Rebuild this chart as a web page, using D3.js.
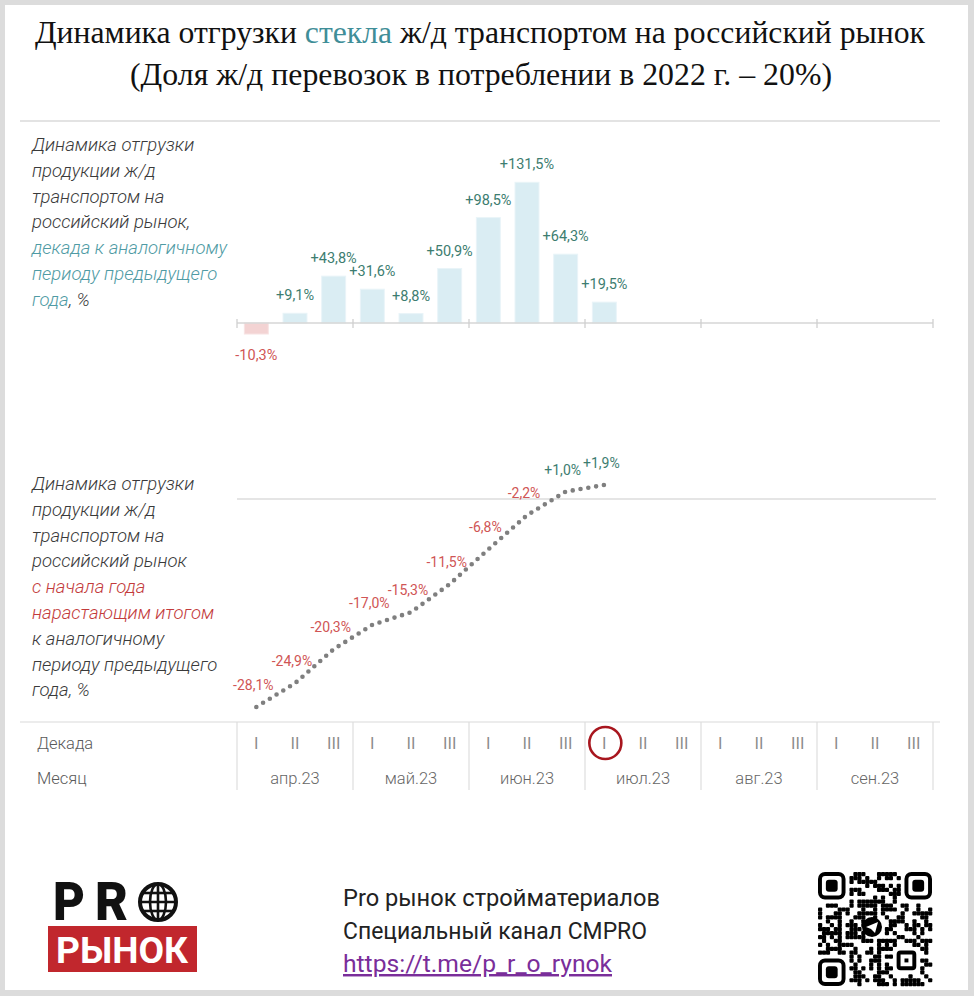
<!DOCTYPE html>
<html><head><meta charset="utf-8">
<script src="https://cdn.jsdelivr.net/npm/d3@7/dist/d3.min.js"></script>
<style>
html,body{margin:0;padding:0;background:#fff;}
svg{display:block;}
</style></head>
<body>
<svg id="chart" width="974" height="996"></svg>
<script>
// ---------- DATA ----------
const months = ["апр.23","май.23","июн.23","июл.23","авг.23","сен.23"];
const decades = ["I","II","III"];
const decadeYoY = [-10.3, 9.1, 43.8, 31.6, 8.8, 50.9, 98.5, 131.5, 64.3, 19.5];
const cumulativeYoY = [-28.1, -24.9, -20.3, -17.0, -15.3, -11.5, -6.8, -2.2, 1.0, 1.9];
const currentDecade = "июл.23 I";
const titleLine1 = [["Динамика отгрузки ", "dark"], ["стекла", "teal"], [" ж/д транспортом на российский рынок", "dark"]];
const titleLine2 = "(Доля ж/д перевозок в потреблении в 2022 г. – 20%)";
const noteTop = [
  [["Динамика отгрузки","dark"]],
  [["продукции ж/д","dark"]],
  [["транспортом на","dark"]],
  [["российский рынок,","dark"]],
  [["декада к аналогичному","teal"]],
  [["периоду предыдущего","teal"]],
  [["года","teal"],[", %","dark"]]
];
const noteBottom = [
  [["Динамика отгрузки","dark"]],
  [["продукции ж/д","dark"]],
  [["транспортом на","dark"]],
  [["российский рынок","dark"]],
  [["с начала года","red"]],
  [["нарастающим итогом","red"]],
  [["к аналогичному","dark"]],
  [["периоду предыдущего","dark"]],
  [["года, %","dark"]]
];
const rowLabels = ["Декада","Месяц"];
const footerLines = ["Pro рынок стройматериалов","Специальный канал CMPRO","https://t.me/p_r_o_rynok"];

// ---------- SETUP ----------
const colors = {dark:"#3a3a3a", teal:"#4f9ba4", red:"#c33b3b"};
const periods = [];
months.forEach(m => decades.forEach(d => periods.push(m + " " + d)));
const fmt = v => (v > 0 ? "+" : "") + v.toFixed(1).replace(".", ",") + "%";

const svg = d3.select("#chart");
svg.append("rect").attr("width",974).attr("height",996).attr("fill","#dcdcdc");
svg.append("rect").attr("x",5).attr("y",5).attr("width",963).attr("height",985).attr("fill","#fff");

// Title
const t1 = svg.append("text").attr("x",480).attr("y",43).attr("text-anchor","middle")
  .attr("font-family","'Liberation Serif', 'Times New Roman', serif").attr("font-size",31)
  .attr("textLength",890).attr("lengthAdjust","spacingAndGlyphs");
titleLine1.forEach(([s,c]) => t1.append("tspan").attr("fill", c==="teal" ? "#3f8e98" : "#111").text(s));
svg.append("text").attr("x",481).attr("y",85).attr("text-anchor","middle")
  .attr("font-family","'Liberation Serif', 'Times New Roman', serif").attr("font-size",31)
  .attr("fill","#111").attr("textLength",702).attr("lengthAdjust","spacingAndGlyphs").text(titleLine2);

// separator
svg.append("line").attr("x1",20).attr("x2",940).attr("y1",121).attr("y2",121).attr("stroke","#c8c8c8").attr("stroke-width",1.2);

// scales
const xLeft = 237, xRight = 933;
const pad = 0.38;
const x = d3.scaleBand().domain(periods).range([xLeft, xRight]).paddingInner(pad).paddingOuter(pad/2);
const xm = d3.scaleBand().domain(months).range([xLeft, xRight]);
const yTop = d3.scaleLinear().domain([0, 100]).range([323, 216]);
const yBot = d3.scaleLinear().domain([0, -10]).range([499, 573]);

// notes
function drawNote(lines, y0){
  const g = svg.append("g");
  lines.forEach((parts, i) => {
    const t = g.append("text").attr("x",32).attr("y", y0 + i*25.8)
      .attr("font-family","Roboto, sans-serif").attr("font-style","italic").attr("font-weight",300)
      .attr("font-size",18.5);
    parts.forEach(([s,c]) => t.append("tspan").attr("fill", colors[c]).text(s));
  });
}
drawNote(noteTop, 151);
drawNote(noteBottom, 490);

// ---------- TOP BAR CHART ----------
const barData = decadeYoY.map((v,i) => ({p: periods[i], v}));
svg.append("g").selectAll("rect").data(barData).join("rect")
  .attr("x", d => x(d.p)).attr("width", x.bandwidth())
  .attr("y", d => Math.min(yTop(d.v), yTop(0)))
  .attr("height", d => Math.abs(yTop(d.v) - yTop(0)))
  .attr("fill", d => d.v >= 0 ? "#daedf3" : "#f3d3d3")
  .attr("stroke", d => d.v >= 0 ? "#e9f4f8" : "#f7e3e3").attr("stroke-width",1);

// axis line + ticks
svg.append("line").attr("x1",xLeft).attr("x2",xRight).attr("y1",yTop(0)).attr("y2",yTop(0))
  .attr("stroke","#d6d6d6").attr("stroke-width",1.5);
const bounds = months.map(m => xm(m)).concat([xRight]);
svg.append("g").selectAll("line").data(bounds).join("line")
  .attr("x1", d => d).attr("x2", d => d).attr("y1", yTop(0)-4).attr("y2", yTop(0)+5)
  .attr("stroke","#cfcfcf").attr("stroke-width",1.3);

svg.append("g").selectAll("text").data(barData).join("text")
  .attr("x", d => x(d.p) + x.bandwidth()/2)
  .attr("y", d => d.v >= 0 ? yTop(d.v) - 13 : yTop(d.v) + 26)
  .attr("text-anchor","middle").attr("font-family","Roboto, sans-serif").attr("font-size",14.5)
  .attr("fill", d => d.v >= 0 ? "#3d7d70" : "#d05555").text(d => fmt(d.v));

// ---------- BOTTOM LINE CHART ----------
svg.append("line").attr("x1",xLeft).attr("x2",936).attr("y1",yBot(0)).attr("y2",yBot(0))
  .attr("stroke","#dcdcdc").attr("stroke-width",1.3);
const lineData = cumulativeYoY.map((v,i) => ({p: periods[i], v}));
const line = d3.line().x(d => x(d.p) + x.bandwidth()/2).y(d => yBot(d.v));
svg.append("path").datum(lineData).attr("d", line).attr("fill","none")
  .attr("stroke","#7f7f7f").attr("stroke-width",4.6).attr("stroke-linecap","round")
  .attr("stroke-dasharray","0,7.9");
svg.append("g").selectAll("text").data(lineData).join("text")
  .attr("x", d => x(d.p) + x.bandwidth()/2 - 3)
  .attr("y", d => yBot(d.v) - 17)
  .attr("text-anchor","middle").attr("font-family","Roboto, sans-serif").attr("font-size",14)
  .attr("fill", d => d.v >= 0 ? "#3d7d70" : "#d05555").text(d => fmt(d.v));

// ---------- TABLE ----------
svg.append("line").attr("x1",20).attr("x2",940).attr("y1",722).attr("y2",722).attr("stroke","#d9d9d9").attr("stroke-width",1.2);
svg.append("g").selectAll("line").data(bounds).join("line")
  .attr("x1", d => d).attr("x2", d => d).attr("y1",722).attr("y2",790)
  .attr("stroke","#dedede").attr("stroke-width",1.2);
rowLabels.forEach((r,i) => svg.append("text").attr("x",37).attr("y",749 + i*35)
  .attr("font-family","Roboto, sans-serif").attr("font-weight",300).attr("font-size",16.5)
  .attr("fill","#5a5a5a").text(r));
svg.append("g").selectAll("text").data(periods).join("text")
  .attr("x", d => x(d) + x.bandwidth()/2).attr("y",749)
  .attr("text-anchor","middle").attr("font-family","'Liberation Sans', Arial, sans-serif").attr("font-weight",400)
  .attr("font-size",16).attr("fill","#8c8c8c")
  .text(d => d.split(" ")[1]);
svg.append("g").selectAll("text").data(months).join("text")
  .attr("x", d => xm(d) + xm.bandwidth()/2).attr("y",784)
  .attr("text-anchor","middle").attr("font-family","Roboto, sans-serif").attr("font-weight",300)
  .attr("font-size",16.5).attr("fill","#666").text(d => d);
svg.append("circle").attr("cx", x(currentDecade) + x.bandwidth()/2 + 1).attr("cy",743).attr("r",16)
  .attr("fill","none").attr("stroke","#a8161e").attr("stroke-width",2.6);

// ---------- FOOTER ----------
// logo
const logo = svg.append("g");
logo.append("text").attr("x",53).attr("y",920).attr("font-family","Roboto, 'DejaVu Sans', sans-serif")
  .attr("font-weight",900).attr("font-size",53).attr("fill","#111")
  .attr("textLength",32).attr("lengthAdjust","spacingAndGlyphs").text("P");
logo.append("text").attr("x",95).attr("y",920).attr("font-family","Roboto, 'DejaVu Sans', sans-serif")
  .attr("font-weight",900).attr("font-size",53).attr("fill","#111")
  .attr("textLength",33).attr("lengthAdjust","spacingAndGlyphs").text("R");
const gx = 158, gy = 902, gr = 18;
logo.append("circle").attr("cx",gx).attr("cy",gy).attr("r",gr).attr("fill","#fff").attr("stroke","#111").attr("stroke-width",4);
logo.append("ellipse").attr("cx",gx).attr("cy",gy).attr("rx",8).attr("ry",gr).attr("fill","none").attr("stroke","#111").attr("stroke-width",2.6);
logo.append("line").attr("x1",gx).attr("x2",gx).attr("y1",gy-gr).attr("y2",gy+gr).attr("stroke","#111").attr("stroke-width",2.6);
[-9,0,9].forEach(dy => {
  const hw = Math.sqrt(gr*gr - dy*dy);
  logo.append("line").attr("x1",gx-hw).attr("x2",gx+hw).attr("y1",gy+dy).attr("y2",gy+dy).attr("stroke","#111").attr("stroke-width",2.6);
});
logo.append("rect").attr("x",48).attr("y",926).attr("width",149).attr("height",46).attr("fill","#c1272d");
logo.append("text").attr("x",122).attr("y",963).attr("text-anchor","middle")
  .attr("font-family","Roboto, 'DejaVu Sans', sans-serif").attr("font-weight",700).attr("font-size",37)
  .attr("fill","#fff").attr("textLength",132).attr("lengthAdjust","spacingAndGlyphs").text("РЫНОК");

// footer text
const fw = [317, 304, 269];
footerLines.forEach((s,i) => {
  const t = svg.append("text").attr("x",343).attr("y",906 + i*33)
    .attr("font-family","Roboto, sans-serif").attr("font-size",24.5)
    .attr("fill", i===2 ? "#7a2e9a" : "#222")
    .attr("textLength", fw[i]).attr("lengthAdjust","spacingAndGlyphs").text(s);
  if (i===2) t.attr("text-decoration","underline");
});

// QR-like code (decorative)
const qx = 818, qy = 872, N = 29, ms = 114/N;
const qr = svg.append("g");
function hash(r,c){ const s = Math.sin(r*12.9898 + c*78.233 + r*c*0.17)*43758.5453; return s - Math.floor(s); }
function inFinder(r,c){ return (r<8&&c<8)||(r<8&&c>=N-8)||(r>=N-8&&c<8); }
function inCenter(r,c){ const dr=r-14, dc=c-14; return dr*dr+dc*dc < 9; }
function inAlign(r,c){ return r>=19&&r<=25&&c>=19&&c<=25; }
for (let r=0;r<N;r++) for (let c=0;c<N;c++){
  if (inFinder(r,c)||inCenter(r,c)||inAlign(r,c)) continue;
  if (hash(r,c) > 0.5) qr.append("rect").attr("x",qx+c*ms).attr("y",qy+r*ms).attr("width",ms+0.3).attr("height",ms+0.3).attr("rx",1).attr("fill","#000");
}
[[0,0],[0,N-7],[N-7,0]].forEach(([r,c]) => {
  qr.append("rect").attr("x",qx+c*ms+ms/2).attr("y",qy+r*ms+ms/2).attr("width",6*ms).attr("height",6*ms).attr("rx",5)
    .attr("fill","none").attr("stroke","#000").attr("stroke-width",ms);
  qr.append("rect").attr("x",qx+(c+2)*ms).attr("y",qy+(r+2)*ms).attr("width",3*ms).attr("height",3*ms).attr("rx",3).attr("fill","#000");
});
qr.append("rect").attr("x",qx+20*ms+ms/2).attr("y",qy+20*ms+ms/2).attr("width",4*ms).attr("height",4*ms).attr("rx",2)
  .attr("fill","none").attr("stroke","#000").attr("stroke-width",ms);
qr.append("rect").attr("x",qx+22*ms).attr("y",qy+22*ms).attr("width",ms).attr("height",ms).attr("fill","#000");
const tcx = 872, tcy = 927;
qr.append("circle").attr("cx",tcx).attr("cy",tcy).attr("r",10).attr("fill","#000");
qr.append("path").attr("d",`M${tcx-6},${tcy} L${tcx+6},${tcy-5} L${tcx+3},${tcy+6} L${tcx-1},${tcy+2} Z`).attr("fill","#fff");
</script>
</body></html>
